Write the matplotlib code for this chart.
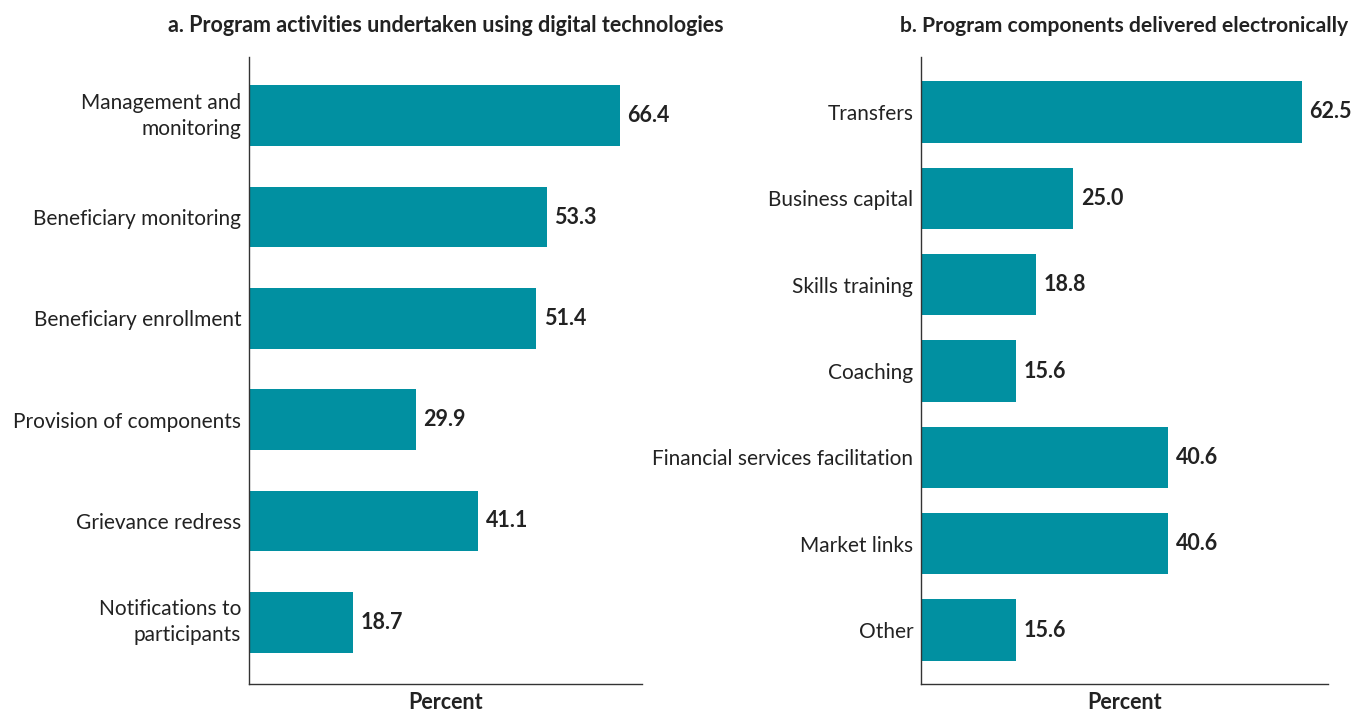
import matplotlib
matplotlib.use("Agg")
import matplotlib.pyplot as plt
from matplotlib import transforms

plt.rcParams['font.family'] = ['Lato', 'DejaVu Sans']

left_title = "a. Program activities undertaken using digital technologies"
left_cats = ["Management and\nmonitoring", "Beneficiary monitoring", "Beneficiary enrollment",
             "Provision of components", "Grievance redress", "Notifications to\nparticipants"]
left_vals = [66.4, 53.3, 51.4, 29.9, 41.1, 18.7]

right_title = "b. Program components delivered electronically"
right_cats = ["Transfers", "Business capital", "Skills training", "Coaching",
              "Financial services facilitation", "Market links", "Other"]
right_vals = [62.5, 25.0, 18.8, 15.6, 40.6, 40.6, 15.6]

xlabel = "Percent"
bar_color = "#0190a1"
text_color = "#222222"

fig = plt.figure(figsize=(13.56, 7.11), dpi=100)
W, H = 1356, 711

def make_ax(x0, x1, y0, y1):
    return fig.add_axes([x0 / W, 1 - y1 / H, (x1 - x0) / W, (y1 - y0) / H])

axL = make_ax(249, 642, 57, 684)
axR = make_ax(921, 1328, 57, 684)

def draw(ax, cats, vals, xmax, height, ylim):
    pos = list(range(len(cats)))
    ax.barh(pos, vals, height=height, color=bar_color, zorder=2)
    ax.set_xlim(0, xmax)
    ax.set_ylim(*ylim)
    ax.set_yticks(pos)
    labels = ax.set_yticklabels(cats, fontsize=15, color=text_color, ha='right',
                                linespacing=1.35)
    for lab, c in zip(labels, cats):
        lab.set_va('center' if '\n' in c else 'center_baseline')
    ax.tick_params(axis='y', length=0, pad=5.5)
    ax.set_xticks([])
    for s in ['top', 'right']:
        ax.spines[s].set_visible(False)
    for s in ['left', 'bottom']:
        ax.spines[s].set_color('#333333')
        ax.spines[s].set_linewidth(1.0)
    for p, v in zip(pos, vals):
        ax.text(v, p, f"{v:.1f}",
                transform=transforms.offset_copy(ax.transData, fig=fig, x=5.5, y=0, units='points'),
                ha='left', va='center', fontsize=15.5, fontweight='bold', color=text_color)
    ax.set_xlabel(xlabel, fontsize=15.5, fontweight='bold', color=text_color, labelpad=6)

draw(axL, left_cats, left_vals, 70.4, 0.6, (5.61, -0.58))
draw(axR, right_cats, right_vals, 66.8, 0.71, (6.625, -0.637))

fig.text(445.5 / W, 1 - 26 / H, left_title, ha='center', va='center', fontsize=15.5,
         fontweight='bold', color=text_color)
fig.text(1124.5 / W, 1 - 26 / H, right_title, ha='center', va='center', fontsize=15.2,
         fontweight='bold', color=text_color)

fig.savefig("out.png", dpi=100, facecolor='white')
